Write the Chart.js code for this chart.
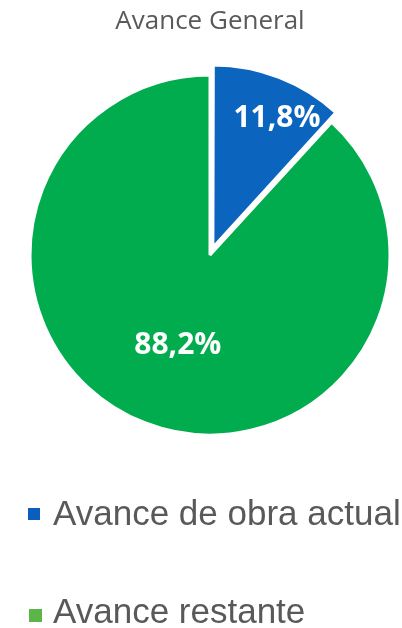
<!DOCTYPE html>
<html>
<head>
<meta charset="utf-8">
<script src="https://cdn.jsdelivr.net/npm/chart.js@4.4.1/dist/chart.umd.min.js"></script>
<style>
  html, body { margin: 0; padding: 0; background: #ffffff; }
  #wrap { position: relative; width: 402px; height: 628px; overflow: hidden; }
  #c { position: absolute; left: 0; top: 0; }
  .lg { position: absolute; font-family: "Liberation Sans", Arial, sans-serif; font-size: 35px; line-height: 35px; color: #595959; white-space: nowrap; }
  .lg i { position: absolute; display: block; }
</style>
</head>
<body>
<div id="wrap">
  <canvas id="c" width="402" height="628"></canvas>
</div>
<script>
// ---- data ----
const chartTitle = "Avance General";
const categories = ["Avance de obra actual", "Avance restante"];
const values = [11.8, 88.2];
const valueLabels = ["11,8%", "88,2%"];
const sliceColors = ["#0B64BE", "#00AC4E"];
const legendColors = ["#0B5EBC", "#5CB548"];

// ---- value labels plugin ----
const labelGeom = [{frac: 0.80, shift: 0.09}, {frac: 0.535, shift: -0.03}];
const sliceLabels = {
  id: 'sliceLabels',
  afterDatasetsDraw(chart) {
    const ctx = chart.ctx;
    const meta = chart.getDatasetMeta(0);
    ctx.save();
    ctx.fillStyle = '#ffffff';
    ctx.font = 'bold 30px "Open Sans", sans-serif';
    ctx.textAlign = 'center';
    ctx.textBaseline = 'middle';
    meta.data.forEach((arc, i) => {
      const p = arc.getProps(['x', 'y', 'startAngle', 'endAngle', 'outerRadius']);
      const mid = (p.startAngle + p.endAngle) / 2;
      const off = (arc.options.offset || 0) / 4;
      const cx = p.x + Math.cos(mid) * off;
      const cy = p.y + Math.sin(mid) * off;
      const a = mid + labelGeom[i].shift;
      const d = p.outerRadius * labelGeom[i].frac;
      ctx.fillText(valueLabels[i], cx + Math.cos(a) * d, cy + Math.sin(a) * d);
    });
    ctx.restore();
  }
};

new Chart(document.getElementById('c'), {
  type: 'pie',
  data: {
    labels: categories,
    datasets: [{
      data: values,
      backgroundColor: sliceColors,
      borderColor: '#ffffff',
      borderWidth: 3,
      offset: [32, 0],
      radius: 180
    }]
  },
  options: {
    responsive: false,
    animation: false,
    devicePixelRatio: 1,
    layout: { padding: { left: 18, right: 0, top: 0, bottom: 162.8 } },
    plugins: {
      legend: { display: false },
      tooltip: { enabled: false },
      title: {
        display: true,
        text: chartTitle,
        color: '#595959',
        font: { family: '"Open Sans", sans-serif', size: 26, weight: 'normal' },
        padding: { top: 6, bottom: 7.6 }
      }
    }
  },
  plugins: [sliceLabels]
});

// ---- HTML legend built from the arrays ----
const wrap = document.getElementById('wrap');
const legendPos = [{top: 495, left: 53, mx: 28, my: 508, ms: 12}, {top: 593, left: 53, mx: 29, my: 609, ms: 13}];
categories.forEach((name, i) => {
  const pos = legendPos[i];
  const m = document.createElement('i');
  m.style.cssText = `position:absolute;left:${pos.mx}px;top:${pos.my}px;width:${pos.ms}px;height:${pos.ms}px;background:${legendColors[i]};`;
  wrap.appendChild(m);
  const t = document.createElement('div');
  t.className = 'lg';
  t.style.left = pos.left + 'px';
  t.style.top = pos.top + 'px';
  t.textContent = name;
  wrap.appendChild(t);
});
</script>
</body>
</html>
